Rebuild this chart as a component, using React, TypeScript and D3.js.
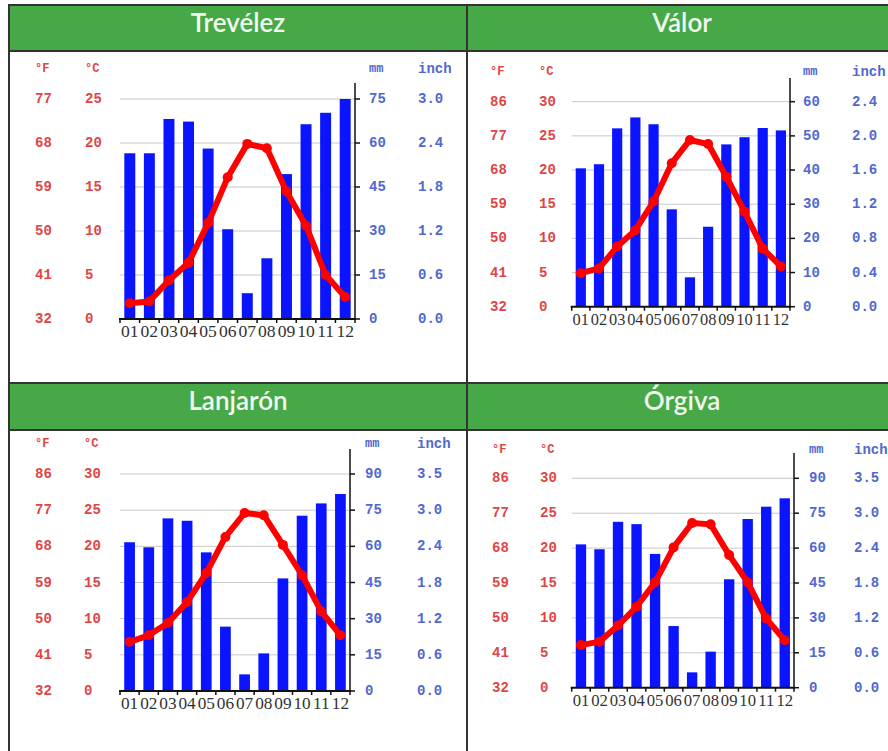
import React from "react";
import * as d3 from "d3";

// ---------- data ----------
const months = ["01", "02", "03", "04", "05", "06", "07", "08", "09", "10", "11", "12"];
const cityNames = ["Trevélez", "Válor", "Lanjarón", "Órgiva"];

const trevelezPrecip = [56.5, 56.5, 68.2, 67.3, 58.1, 30.6, 8.8, 20.7, 49.4, 66.4, 70.3, 75];
const trevelezTemp = [1.8, 2.0, 4.4, 6.4, 10.9, 16.1, 19.9, 19.4, 14.5, 10.6, 5.0, 2.5];
const valorPrecip = [40.5, 41.7, 52.2, 55.4, 53.4, 28.5, 8.6, 23.4, 47.5, 49.6, 52.3, 51.6];
const valorTemp = [4.9, 5.6, 8.8, 11.2, 15.4, 21.0, 24.4, 23.8, 19.0, 13.9, 8.5, 5.9];
const lanjaronPrecip = [61.7, 59.6, 71.6, 70.6, 57.5, 26.7, 6.9, 15.6, 46.7, 72.7, 77.8, 81.7];
const lanjaronTemp = [6.8, 7.7, 9.4, 12.3, 16.3, 21.3, 24.6, 24.3, 20.2, 16.0, 11.0, 7.7];
const orgivaPrecip = [61.6, 59.5, 71.3, 70.3, 57.5, 26.5, 6.6, 15.5, 46.6, 72.5, 77.8, 81.4];
const orgivaTemp = [6.1, 6.6, 8.9, 11.6, 15.1, 20.1, 23.6, 23.4, 19.0, 15.1, 9.9, 6.8];

const ticksC25 = [0, 5, 10, 15, 20, 25];
const ticksF25 = ["32", "41", "50", "59", "68", "77"];
const ticksMm75 = ["0", "15", "30", "45", "60", "75"];
const ticksInch75 = ["0.0", "0.6", "1.2", "1.8", "2.4", "3.0"];

const ticksC30 = [0, 5, 10, 15, 20, 25, 30];
const ticksF30 = ["32", "41", "50", "59", "68", "77", "86"];
const ticksMm60 = ["0", "10", "20", "30", "40", "50", "60"];
const ticksInch60 = ["0.0", "0.4", "0.8", "1.2", "1.6", "2.0", "2.4"];
const ticksMm90 = ["0", "15", "30", "45", "60", "75", "90"];
const ticksInch90 = ["0.0", "0.6", "1.2", "1.8", "2.4", "3.0", "3.5"];

const precipSeries = [trevelezPrecip, valorPrecip, lanjaronPrecip, orgivaPrecip];
const tempSeries = [trevelezTemp, valorTemp, lanjaronTemp, orgivaTemp];
const cTicks = [ticksC25, ticksC30, ticksC30, ticksC30];
const fTicks = [ticksF25, ticksF30, ticksF30, ticksF30];
const mmTicks = [ticksMm75, ticksMm60, ticksMm90, ticksMm90];
const inchTicks = [ticksInch75, ticksInch60, ticksInch90, ticksInch90];
const mmPerDegree = [3, 2, 3, 3];

// ---------- layout ----------
const layouts = [
  { x0: 9, x1: 467, y0: 5, hb: 51, yb: 383, titleY: 32, left: 120, right: 355, zeroY: 319, topY: 99, axisTop: 83, colF: 35, colC: 85, colMm: 369, colIn: 418, headY: 69 },
  { x0: 467, x1: 897, y0: 5, hb: 51, yb: 383, titleY: 32, left: 571.7, right: 790, zeroY: 306.7, topY: 101.7, axisTop: 78, colF: 490, colC: 539, colMm: 803, colIn: 852, headY: 72 },
  { x0: 9, x1: 467, y0: 383, hb: 430, yb: 780, titleY: 410, left: 120, right: 350, zeroY: 691, topY: 474, axisTop: 449, colF: 35, colC: 84, colMm: 365, colIn: 417, headY: 444 },
  { x0: 467, x1: 897, y0: 383, hb: 430, yb: 780, titleY: 410, left: 571.7, right: 794, zeroY: 687.7, topY: 478.3, axisTop: 453, colF: 492, colC: 540, colMm: 809, colIn: 854, headY: 450 },
];

const GREEN = "#46a846";
const FRAME = "#333";
const RED_TXT = "#e04545";
const BLUE_TXT = "#5068d0";
const MONO = "'Liberation Mono', 'DejaVu Sans Mono', monospace";

function Panel({ i }: { i: number }) {
  const L = layouts[i];
  const ct = cTicks[i];
  const cMax = ct[ct.length - 1];
  const x = d3.scaleBand<string>().domain(months).range([L.left, L.right]).paddingInner(0.44).paddingOuter(0.22);
  const xOuter = d3.scaleBand<string>().domain(months).range([L.left, L.right]);
  const yT = d3.scaleLinear().domain([0, cMax]).range([L.zeroY, L.topY]);
  const yP = d3.scaleLinear().domain([0, cMax * mmPerDegree[i]]).range([L.zeroY, L.topY]);
  const temps = tempSeries[i];
  const line = d3
    .line<number>()
    .x((_, k) => (xOuter(months[k]) as number) + xOuter.bandwidth() / 2)
    .y((d) => yT(d));
  const band = xOuter.bandwidth();
  const monthFont = band * 0.9;
  return (
    <g>
      <rect x={L.x0} y={L.y0} width={L.x1 - L.x0} height={L.hb - L.y0} fill={GREEN} stroke={FRAME} strokeWidth={2} />
      <rect x={L.x0} y={L.hb} width={L.x1 - L.x0} height={L.yb - L.hb} fill="#fff" stroke={FRAME} strokeWidth={2} />
      <text
        x={(L.x0 + L.x1) / 2}
        y={L.titleY}
        textAnchor="middle"
        fontFamily="Lato, 'Open Sans', sans-serif"
        fontSize={26}
        fontWeight={600}
        fill="#f2f9ee"
      >
        {cityNames[i]}
      </text>
      {ct.slice(1).map((c) => (
        <line key={"g" + c} x1={L.left} x2={L.right} y1={yT(c)} y2={yT(c)} stroke="#c8c8c8" strokeWidth={1} />
      ))}
      {precipSeries[i].map((p, k) => (
        <rect
          key={"b" + k}
          x={x(months[k])}
          y={yP(p)}
          width={x.bandwidth()}
          height={L.zeroY - yP(p)}
          fill="#0a14ff"
        />
      ))}
      <path d={line(temps) || ""} fill="none" stroke="#ff0000" strokeWidth={6} strokeLinejoin="round" strokeLinecap="round" />
      {temps.map((t, k) => (
        <circle key={"c" + k} cx={(xOuter(months[k]) as number) + band / 2} cy={yT(t)} r={5} fill="#ff0000" />
      ))}
      <line x1={L.left - 1} x2={L.right + 1} y1={L.zeroY} y2={L.zeroY} stroke="#111" strokeWidth={2} />
      {d3.range(13).map((k) => (
        <line key={"xt" + k} x1={L.left + k * band} x2={L.left + k * band} y1={L.zeroY} y2={L.zeroY + 4} stroke="#111" strokeWidth={1.5} />
      ))}
      <line x1={L.right} x2={L.right} y1={L.axisTop} y2={L.zeroY} stroke="#111" strokeWidth={1.5} />
      {ct.map((c) => (
        <line key={"yt" + c} x1={L.right} x2={L.right + 5} y1={yT(c)} y2={yT(c)} stroke="#111" strokeWidth={1.5} />
      ))}
      {months.map((m) => (
        <text
          key={"m" + m}
          x={(xOuter(m) as number) + band / 2}
          y={L.zeroY + 18}
          textAnchor="middle"
          fontFamily="'Liberation Serif', 'DejaVu Serif', serif"
          fontSize={monthFont}
          fill="#333"
        >
          {m}
        </text>
      ))}
      <g fontFamily={MONO} fontSize={14} fontWeight="bold">
        <text x={L.colF} y={L.headY} dominantBaseline="central" fill={RED_TXT} fontSize={12}>°F</text>
        <text x={L.colC} y={L.headY} dominantBaseline="central" fill={RED_TXT} fontSize={12}>°C</text>
        <text x={L.colMm} y={L.headY} dominantBaseline="central" fill={BLUE_TXT} fontSize={12}>mm</text>
        <text x={L.colIn} y={L.headY} dominantBaseline="central" fill={BLUE_TXT}>inch</text>
        {ct.map((c, k) => (
          <g key={"lab" + c}>
            <text x={L.colF} y={yT(c)} dominantBaseline="central" fill={RED_TXT}>{fTicks[i][k]}</text>
            <text x={L.colC} y={yT(c)} dominantBaseline="central" fill={RED_TXT}>{String(c)}</text>
            <text x={L.colMm} y={yT(c)} dominantBaseline="central" fill={BLUE_TXT}>{mmTicks[i][k]}</text>
            <text x={L.colIn} y={yT(c)} dominantBaseline="central" fill={BLUE_TXT}>{inchTicks[i][k]}</text>
          </g>
        ))}
      </g>
    </g>
  );
}

export default function App() {
  return (
    <svg
      width={888}
      height={751}
      viewBox="0 0 888 751"
      style={{ position: "absolute", left: 0, top: 0, background: "#fff" }}
    >
      <rect x={0} y={0} width={888} height={751} fill="#fff" />
      {[0, 1, 2, 3].map((i) => (
        <Panel key={i} i={i} />
      ))}
    </svg>
  );
}
